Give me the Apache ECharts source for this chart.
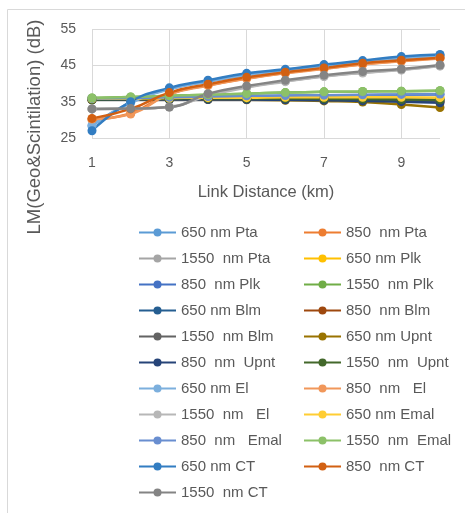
<!DOCTYPE html>
<html>
<head>
<meta charset="utf-8">
<script src="https://cdn.jsdelivr.net/npm/echarts@6/dist/echarts.min.js"></script>
<style>
  html, body { margin: 0; padding: 0; background: #fff; }
  #chart { width: 465px; height: 513px; }
</style>
</head>
<body>
<div id="chart"></div>
<script>
// link distance (km)
const distances = ['1', '2', '3', '4', '5', '6', '7', '8', '9', '10'];
const yTicks = [25, 35, 45, 55];

// LM (dB) per model / wavelength
const pta650   = [28.3, 34.8, 38.5, 40.6, 42.4, 43.7, 44.9, 46.0, 47.0, 47.8];
const pta850   = [30.0, 31.8, 37.1, 39.5, 41.4, 42.9, 44.1, 45.3, 46.2, 47.0];
const pta1550  = [33.0, 33.0, 33.5, 36.8, 39.0, 40.6, 42.0, 43.0, 43.8, 44.9];
const plk650   = [35.8, 35.9, 36.0, 36.0, 36.1, 36.1, 36.1, 36.1, 36.0, 36.0];
const plk850   = [35.9, 36.0, 36.2, 36.4, 36.5, 36.6, 36.7, 36.8, 36.9, 37.0];
const plk1550  = [36.0, 36.3, 36.6, 36.9, 37.2, 37.5, 37.7, 37.8, 37.9, 38.0];
const blm650   = [35.7, 35.8, 35.9, 35.9, 35.9, 35.9, 35.8, 35.7, 35.6, 35.5];
const blm850   = [35.5, 35.6, 35.7, 35.7, 35.7, 35.6, 35.5, 35.4, 35.2, 35.0];
const blm1550  = [35.6, 35.7, 35.8, 35.8, 35.8, 35.7, 35.6, 35.5, 35.4, 35.2];
const upnt650  = [35.5, 35.5, 35.6, 35.6, 35.5, 35.4, 35.2, 34.9, 34.2, 33.4];
const upnt850  = [35.5, 35.6, 35.6, 35.6, 35.6, 35.5, 35.4, 35.2, 35.0, 34.7];
const upnt1550 = [35.6, 35.7, 35.8, 35.9, 35.9, 35.9, 35.8, 35.7, 35.6, 35.5];
const el650    = [28.5, 34.6, 38.4, 40.5, 42.3, 43.6, 44.8, 45.9, 46.9, 47.7];
const el850    = [30.2, 31.6, 37.0, 39.4, 41.3, 42.8, 44.0, 45.2, 46.1, 46.9];
const el1550   = [33.0, 33.1, 33.6, 36.6, 38.9, 40.5, 41.9, 42.9, 43.7, 44.8];
const emal650  = [35.8, 35.9, 36.0, 36.1, 36.1, 36.2, 36.2, 36.2, 36.2, 36.1];
const emal850  = [35.9, 36.0, 36.2, 36.4, 36.6, 36.7, 36.8, 36.9, 37.0, 37.1];
const emal1550 = [36.0, 36.3, 36.6, 36.9, 37.2, 37.5, 37.7, 37.8, 37.9, 38.0];
const ct650    = [27.0, 35.0, 38.8, 40.9, 42.8, 43.9, 45.2, 46.3, 47.4, 48.0];
const ct850    = [30.4, 33.0, 37.5, 39.8, 41.7, 43.1, 44.3, 45.6, 46.4, 47.1];
const ct1550   = [33.0, 33.1, 33.5, 37.2, 39.3, 40.9, 42.3, 43.3, 44.0, 45.1];

const seriesNames = [
  '650 nm Pta', '850  nm Pta', '1550  nm Pta', '650 nm Plk', '850  nm Plk', '1550  nm Plk',
  '650 nm Blm', '850  nm Blm', '1550  nm Blm', '650 nm Upnt', '850  nm  Upnt', '1550  nm  Upnt',
  '650 nm El', '850  nm   El', '1550  nm   El', '650 nm Emal', '850  nm   Emal', '1550  nm  Emal',
  '650 nm CT', '850  nm CT', '1550  nm CT'
];
const seriesData = [
  pta650, pta850, pta1550, plk650, plk850, plk1550,
  blm650, blm850, blm1550, upnt650, upnt850, upnt1550,
  el650, el850, el1550, emal650, emal850, emal1550,
  ct650, ct850, ct1550
];
const colors = [
  '#5B9BD5', '#ED7D31', '#A5A5A5', '#FFC000', '#4472C4', '#70AD47',
  '#255E91', '#9E480E', '#636363', '#997300', '#264478', '#43682B',
  '#7CAFDD', '#F1975A', '#B7B7B7', '#FFCD33', '#698ED0', '#8CC168',
  '#327DC2', '#D26012', '#848484'
];

const textColor = '#595959';
const gridColor = '#D9D9D9';
const fontFamily = '"Liberation Sans", Arial, sans-serif';

let chart = echarts.init(document.getElementById('chart'));

let series = seriesNames.map(function (name, i) {
  return {
    name: name,
    type: 'line',
    smooth: true,
    data: seriesData[i],
    symbol: 'circle',
    symbolSize: 9,
    lineStyle: { width: 2.5 },
    emphasis: { disabled: true }
  };
});

let legendCommon = {
  orient: 'vertical',
  top: 220,
  itemWidth: 37,
  itemHeight: 10,
  itemGap: 11,
  textStyle: { color: textColor, fontSize: 15, fontFamily: fontFamily }
};

let option = {
  animation: false,
  color: colors,
  textStyle: { fontFamily: fontFamily },
  grid: { left: 92, top: 29, width: 348, height: 109 },
  legend: [
    Object.assign({ left: 133, data: seriesNames.filter(function (n, i) { return i % 2 === 0; }) }, legendCommon),
    Object.assign({ left: 298, data: seriesNames.filter(function (n, i) { return i % 2 === 1; }) }, legendCommon)
  ],
  graphic: [
    {
      type: 'rect',
      silent: true,
      shape: { x: 7.5, y: 9.5, width: 470, height: 520 },
      style: { fill: 'none', stroke: gridColor, lineWidth: 1 }
    },
    {
      type: 'text',
      silent: true,
      x: 35,
      y: 127,
      rotation: Math.PI / 2,
      style: {
        text: 'LM(Geo&Scintilation) (dB)',
        fill: textColor,
        font: '18.5px ' + fontFamily,
        align: 'center',
        verticalAlign: 'middle'
      }
    }
  ],
  xAxis: {
    type: 'category',
    data: distances,
    boundaryGap: false,
    name: 'Link Distance (km)',
    nameLocation: 'middle',
    nameGap: 46,
    nameTextStyle: { color: textColor, fontSize: 16.5 },
    axisLine: { show: false },
    axisTick: { show: false },
    axisLabel: { interval: 1, color: textColor, fontSize: 14, margin: 18 },
    splitLine: { show: true, interval: 1, lineStyle: { color: gridColor, width: 1 } }
  },
  yAxis: {
    type: 'value',
    min: yTicks[0],
    max: yTicks[yTicks.length - 1],
    interval: 10,
    axisLine: { show: false },
    axisTick: { show: false },
    axisLabel: { color: textColor, fontSize: 14, margin: 16 },
    splitLine: { lineStyle: { color: gridColor, width: 1 } }
  },
  series: series
};
chart.setOption(option);
</script>
</body>
</html>
